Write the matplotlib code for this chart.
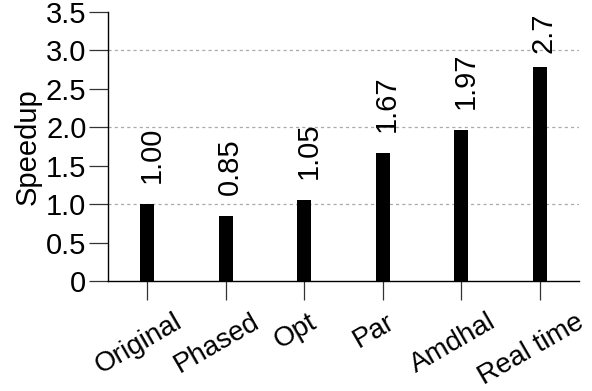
import matplotlib.pyplot as plt
import matplotlib.transforms as mtransforms

categories = ["Original", "Phased", "Opt", "Par", "Amdhal", "Real time"]
speedups = [1.00, 0.85, 1.05, 1.67, 1.97, 2.78]
speedup_labels = [1.00, 0.85, 1.05, 1.67, 1.97, 2.7]
label_texts = ["1.00", "0.85", "1.05", "1.67", "1.97", "2.7"]
yticks = [0, 0.5, 1.0, 1.5, 2.0, 2.5, 3.0, 3.5]
ytick_labels = ["0", "0.5", "1.0", "1.5", "2.0", "2.5", "3.0", "3.5"]
grid_levels = [1.0, 2.0, 3.0]


def draw_graph():
    plt.rcParams["font.family"] = ["Liberation Sans", "DejaVu Sans"]
    plt.rcParams["font.size"] = 21

    fig = plt.figure(figsize=(5.92, 3.91), dpi=100)
    ax = fig.add_axes([0.1824, 0.2813, 0.7956, 0.688])

    #  Grid lines behind the bars
    for level in grid_levels:
        ax.axhline(level, color="#aaaaaa", lw=0.9, ls=(0, (2.5, 2.5)), zorder=0)

    x = list(range(len(categories)))
    ax.bar(x, speedups, width=0.18, color="black", zorder=2)

    #  Value labels sit above the printed value
    for xi, val, txt in zip(x, speedup_labels, label_texts):
        ax.annotate(txt, (xi, val), xytext=(3, 15),
                    textcoords="offset points", rotation=90,
                    ha="center", va="bottom", fontsize=21)

    ax.set_xlim(-0.5, 5.5)
    ax.set_ylim(0, 3.5)
    ax.set_xticks(x)
    ax.set_xticklabels(categories, rotation=30, ha="center", fontsize=20)
    ax.set_yticks(yticks)
    ax.set_yticklabels(ytick_labels, fontsize=21)
    ax.tick_params(axis="both", direction="out", length=14, width=0.9,
                   color="#333333")
    ax.tick_params(axis="y", pad=1.5)
    ax.tick_params(axis="x", pad=6)
    ax.set_ylabel("Speedup", fontsize=21, labelpad=3)

    #  Nudge category labels a little to the left
    shift = mtransforms.ScaledTranslation(-6 / 72, 0, fig.dpi_scale_trans)
    for lbl in ax.get_xticklabels():
        lbl.set_transform(lbl.get_transform() + shift)

    for side in ["top", "right"]:
        ax.spines[side].set_visible(False)
    for side in ["left", "bottom"]:
        ax.spines[side].set_linewidth(1.0)

    fig.savefig("out.png", dpi=100)


if __name__ == "__main__":
    draw_graph()
